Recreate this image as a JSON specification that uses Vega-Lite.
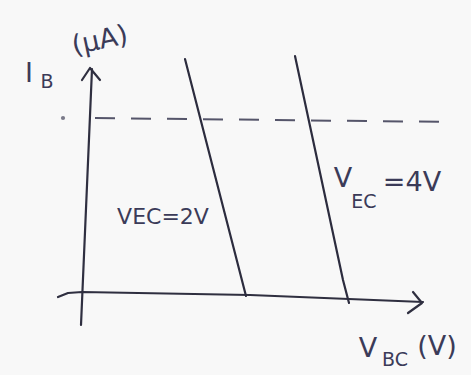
{
  "$schema": "https://vega.github.io/schema/vega-lite/v6.json",
  "width": 471,
  "height": 375,
  "autosize": {"type": "fit", "contains": "padding"},
  "padding": 0,
  "background": "#f8f8f8",
  "config": {"view": {"stroke": null}},
  "datasets": {
    "strokes": [
      {"seg": "yaxis", "k": 0, "v": 0.02, "i": -0.56},
      {"seg": "yaxis", "k": 1, "v": 0.24, "i": 4.56},
      {"seg": "yarrow", "k": 0, "v": 0.04, "i": 4.34},
      {"seg": "yarrow", "k": 1, "v": 0.2, "i": 4.58},
      {"seg": "yarrow", "k": 2, "v": 0.4, "i": 4.34},
      {"seg": "xaxis", "k": 0, "v": -0.44, "i": 0.0},
      {"seg": "xaxis", "k": 1, "v": -0.24, "i": 0.08},
      {"seg": "xaxis", "k": 2, "v": 0.04, "i": 0.1},
      {"seg": "xaxis", "k": 3, "v": 3.4, "i": 0.04},
      {"seg": "xaxis", "k": 4, "v": 6.86, "i": -0.1},
      {"seg": "xarrow", "k": 0, "v": 6.66, "i": 0.1},
      {"seg": "xarrow", "k": 1, "v": 6.84, "i": -0.12},
      {"seg": "xarrow", "k": 2, "v": 6.56, "i": -0.32}
    ],
    "curves": [
      {"vec": "2 V", "k": 0, "v": 2.1, "i": 4.76},
      {"vec": "2 V", "k": 1, "v": 3.32, "i": 0.02},
      {"vec": "4 V", "k": 0, "v": 4.3, "i": 4.82},
      {"vec": "4 V", "k": 1, "v": 5.26, "i": 0.34},
      {"vec": "4 V", "k": 2, "v": 5.38, "i": -0.12}
    ],
    "level": [
      {"v": 0.3, "i": 3.58},
      {"v": 7.46, "i": 3.5}
    ],
    "levelDot": [
      {"v": -0.34, "i": 3.58}
    ],
    "bigText": [
      {"label": "I", "v": -1.02, "i": 4.46},
      {"label": "V", "v": 5.26, "i": 2.36},
      {"label": "=4V", "v": 6.64, "i": 2.28},
      {"label": "V", "v": 5.76, "i": -1.04},
      {"label": "(V)", "v": 7.14, "i": -1.0}
    ],
    "midText": [
      {"label": "VEC=2V", "v": 1.66, "i": 1.6}
    ],
    "unitText": [
      {"label": "(μA)", "v": 0.4, "i": 5.12}
    ],
    "subText": [
      {"label": "B", "v": -0.66, "i": 4.3},
      {"label": "EC", "v": 5.68, "i": 1.9},
      {"label": "BC", "v": 6.3, "i": -1.26}
    ]
  },
  "encoding": {
    "x": {"field": "v", "type": "quantitative", "axis": null, "scale": {"domain": [-1.6, 7.82], "nice": false, "zero": false}},
    "y": {"field": "i", "type": "quantitative", "axis": null, "scale": {"domain": [-1.56, 5.94], "nice": false, "zero": false}}
  },
  "layer": [
    {
      "data": {"name": "level"},
      "mark": {"type": "line", "color": "#55556a", "strokeWidth": 2, "strokeDash": [20, 16]},
      "encoding": {}
    },
    {
      "data": {"name": "levelDot"},
      "mark": {"type": "point", "filled": true, "color": "#45455a", "size": 18}
    },
    {
      "data": {"name": "strokes"},
      "mark": {"type": "line", "color": "#2f2f40", "strokeWidth": 2.2, "strokeCap": "round", "strokeJoin": "round"},
      "encoding": {"detail": {"field": "seg"}, "order": {"field": "k"}}
    },
    {
      "data": {"name": "curves"},
      "mark": {"type": "line", "color": "#2c2c3e", "strokeWidth": 2.2, "strokeCap": "round"},
      "encoding": {"detail": {"field": "vec"}, "order": {"field": "k"}}
    },
    {
      "data": {"name": "bigText"},
      "mark": {"type": "text", "font": "DejaVu Sans", "fontSize": 27, "color": "#3b3b58"},
      "encoding": {"text": {"field": "label"}}
    },
    {
      "data": {"name": "midText"},
      "mark": {"type": "text", "font": "DejaVu Sans", "fontSize": 22, "color": "#3b3b58"},
      "encoding": {"text": {"field": "label"}}
    },
    {
      "data": {"name": "unitText"},
      "mark": {"type": "text", "font": "DejaVu Sans", "fontSize": 27, "angle": 348, "color": "#3b3b58"},
      "encoding": {"text": {"field": "label"}}
    },
    {
      "data": {"name": "subText"},
      "mark": {"type": "text", "font": "DejaVu Sans", "fontSize": 19, "color": "#3b3b58"},
      "encoding": {"text": {"field": "label"}}
    }
  ]
}
